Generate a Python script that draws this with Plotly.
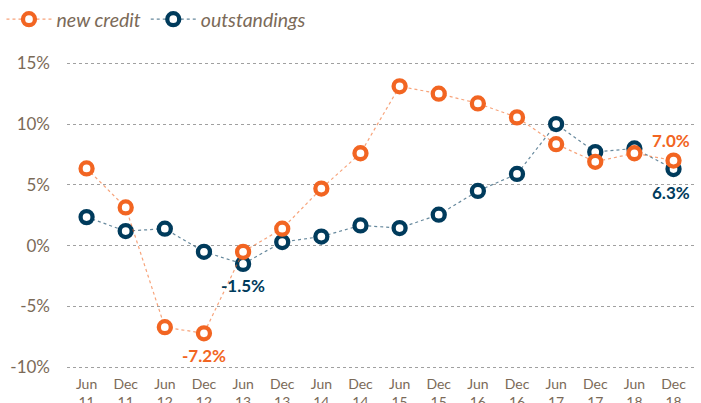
import plotly.graph_objects as go

periods = ["Jun<br>11", "Dec<br>11", "Jun<br>12", "Dec<br>12", "Jun<br>13", "Dec<br>13",
           "Jun<br>14", "Dec<br>14", "Jun<br>15", "Dec<br>15", "Jun<br>16", "Dec<br>16",
           "Jun<br>17", "Dec<br>17", "Jun<br>18", "Dec<br>18"]
new_credit = [6.35, 3.15, -6.7, -7.2, -0.5, 1.4, 4.7, 7.6, 13.1, 12.5, 11.7, 10.55, 8.35, 6.9, 7.6, 7.0]
outstandings = [2.35, 1.2, 1.4, -0.5, -1.5, 0.3, 0.75, 1.67, 1.45, 2.55, 4.5, 5.9, 10.0, 7.7, 8.0, 6.3]
y_ticks = [-10, -5, 0, 5, 10, 15]
y_tick_labels = ["-10%", "-5%", "0%", "5%", "10%", "15%"]

ORANGE = "#F26522"
NAVY = "#003B5C"
TEXT = "#7B6A58"
FONT = "Lato"

x = list(range(len(periods)))

fig = go.Figure()
fig.add_trace(go.Scatter(
    x=x, y=outstandings, name="outstandings", mode="lines+markers",
    line=dict(color="rgba(0,59,92,0.6)", width=1.2, dash="dot"),
    marker=dict(symbol="circle", size=12, color="white", line=dict(color=NAVY, width=4.3)),
))
fig.add_trace(go.Scatter(
    x=x, y=new_credit, name="new credit", mode="lines+markers",
    line=dict(color="rgba(242,101,34,0.6)", width=1.2, dash="dot"),
    marker=dict(symbol="circle", size=12, color="white", line=dict(color=ORANGE, width=4.3)),
))

def ann(i, series, txt, color, yshift, xshift=0):
    fig.add_annotation(x=i, y=series[i], text="<b>" + txt + "</b>", showarrow=False,
                       yshift=yshift, xshift=xshift, font=dict(family=FONT, size=17, color=color))

ann(3, new_credit, "-7.2%", ORANGE, -22)
ann(4, outstandings, "-1.5%", NAVY, -22)
ann(15, new_credit, "7.0%", ORANGE, 20, -3)
ann(15, outstandings, "6.3%", NAVY, -23, -3)

fig.update_layout(
    width=701, height=403,
    margin=dict(l=67, r=4, t=45, b=32, autoexpand=False),
    paper_bgcolor="white", plot_bgcolor="white",
    font=dict(family=FONT, color=TEXT),
    showlegend=True,
    legend=dict(orientation="h", x=-0.104, y=1.0, xref="paper", yref="container",
                xanchor="left", yanchor="top",
                font=dict(family=FONT, size=19.5, color=TEXT, style="italic"),
                traceorder="reversed", itemwidth=45, bgcolor="rgba(0,0,0,0)"),
    xaxis=dict(tickmode="array", tickvals=x, ticktext=periods, range=[-0.5, 15.6],
               showgrid=False, zeroline=False, showline=False, ticks="",
               ticklabelstandoff=3,
               tickfont=dict(family=FONT, size=14, color=TEXT)),
    yaxis=dict(tickmode="array", tickvals=y_ticks, ticktext=y_tick_labels, range=[-10.3, 16.5],
               showgrid=True, gridcolor="#a0a0a0", griddash="dot", gridwidth=1,
               zeroline=False, showline=False, ticks="", ticklabelstandoff=16,
               tickfont=dict(family=FONT, size=17, color=TEXT)),
)

fig.write_html("out.html", config={"displayModeBar": False},
               post_script="document.body.style.margin='0';document.body.style.overflow='hidden';")
